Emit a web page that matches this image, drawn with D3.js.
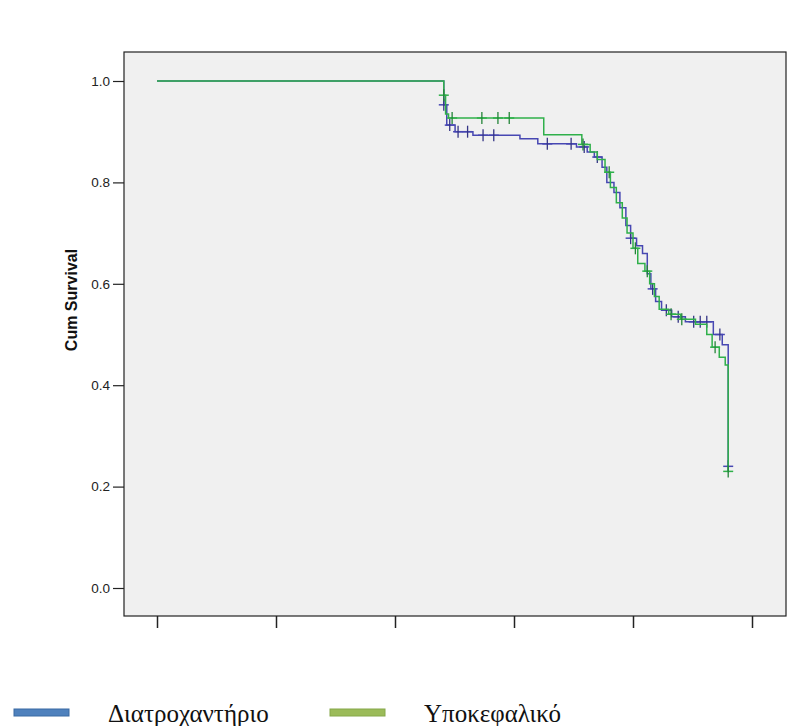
<!DOCTYPE html>
<html>
<head>
<meta charset="utf-8">
<script src="https://cdn.jsdelivr.net/npm/d3@7"></script>
<style>
  body { margin: 0; background: #fff; }
  svg { display: block; }
</style>
</head>
<body>
<svg width="803" height="726"></svg>
<script>
var svg = d3.select("svg");

// step curves: [time, survival after the step]
var blueSteps = [[0,1.0],[48.2,0.953],[48.7,0.913],[50.1,0.90],[53.1,0.893],[61.0,0.886],[64.0,0.876],
  [70.5,0.87],[72.3,0.86],[73.5,0.85],[74.8,0.83],[75.6,0.80],[76.8,0.78],[77.8,0.75],[78.8,0.715],
  [79.6,0.69],[80.6,0.675],[81.6,0.66],[82.4,0.62],[83.0,0.59],[83.8,0.565],[84.8,0.548],[86.5,0.535],
  [88.8,0.525],[93.5,0.50],[95.0,0.48],[96.0,0.24]];
var greenSteps = [[0,1.0],[48.2,0.972],[48.5,0.935],[49.0,0.927],[65.0,0.894],[71.4,0.875],[72.8,0.86],
  [74.0,0.845],[75.3,0.82],[76.2,0.79],[77.2,0.76],[78.2,0.73],[79.0,0.70],[80.0,0.67],[80.8,0.64],
  [82.0,0.625],[82.8,0.60],[83.6,0.575],[84.4,0.55],[86.0,0.54],[88.0,0.53],[90.5,0.52],[92.4,0.50],
  [93.3,0.475],[94.5,0.455],[95.5,0.44],[96.0,0.23]];
// censored times
var blueCensor = [48.2,49.2,50.6,52.2,54.8,56.6,65.6,69.6,71.8,74.0,79.6,83.3,85.6,87.6,90.2,91.3,92.4,94.6,96.0];
var greenCensor = [48.2,49.6,54.6,57.3,59.2,71.6,76.0,80.4,82.4,86.4,88.2,93.8,96.0];
var yTicks = [0.0, 0.2, 0.4, 0.6, 0.8, 1.0];
var xTicks = [0, 20, 40, 60, 80, 100];
var legendLabels = ["Διατροχαντήριο", "Υποκεφαλικό"];

var blueColor = "#4747b2";
var greenColor = "#2fb04a";

var frame = {left: 124, right: 786, top: 52, bottom: 616};
var x = d3.scaleLinear().domain([0, 100]).range([157, 752]);
var y = d3.scaleLinear().domain([0, 1]).range([588, 81]);

// plot background
svg.append("rect")
   .attr("x", frame.left).attr("y", frame.top)
   .attr("width", frame.right - frame.left)
   .attr("height", frame.bottom - frame.top)
   .attr("fill", "#f0f0f0")
   .attr("stroke", "#222")
   .attr("stroke-width", 1.2);

// y axis
var yAxis = d3.axisLeft(y).tickValues(yTicks).tickFormat(d3.format(".1f")).tickSize(11).tickPadding(3);
var gy = svg.append("g").attr("transform", "translate(" + frame.left + ",0)").call(yAxis);
gy.select(".domain").remove();
gy.selectAll("line").attr("stroke", "#222").attr("stroke-width", 1.2);
gy.selectAll("text").style("font-family", "Arial, 'Liberation Sans', sans-serif")
  .style("font-size", "13.5px").attr("fill", "#222");

// x axis, ticks only
var xAxis = d3.axisBottom(x).tickValues(xTicks).tickFormat("").tickSize(12);
var gx = svg.append("g").attr("transform", "translate(0," + frame.bottom + ")").call(xAxis);
gx.select(".domain").remove();
gx.selectAll("line").attr("stroke", "#222").attr("stroke-width", 1.5);

svg.append("text")
   .attr("transform", "translate(77,300) rotate(-90)")
   .attr("text-anchor", "middle")
   .style("font-family", "Arial, 'Liberation Sans', sans-serif")
   .style("font-size", "16px")
   .style("font-weight", "bold")
   .attr("fill", "#111")
   .text("Cum Survival");

function survivalAt(steps, t) {
    var i = d3.bisector(function(d) { return d[0]; }).right(steps, t) - 1;
    return steps[Math.max(i, 0)][1];
}

var stepLine = d3.line()
    .x(function(d) { return x(d[0]); })
    .y(function(d) { return y(d[1]); })
    .curve(d3.curveStepAfter);

function drawCurve(steps, censor, color) {
    svg.append("path")
       .datum(steps)
       .attr("d", stepLine)
       .attr("fill", "none")
       .attr("stroke", color)
       .attr("stroke-width", 1.5);
    var g = svg.append("g");
    censor.forEach(function(t) {
        var cx = x(t), cy = y(survivalAt(steps, t));
        g.append("line").attr("x1", cx - 5).attr("x2", cx + 5).attr("y1", cy).attr("y2", cy)
         .attr("stroke", color).attr("stroke-width", 1.5);
        g.append("line").attr("x1", cx).attr("x2", cx).attr("y1", cy - 6).attr("y2", cy + 6)
         .attr("stroke", d3.color(color).darker(0.8)).attr("stroke-width", 1.3);
    });
}

drawCurve(blueSteps, blueCensor, blueColor);
drawCurve(greenSteps, greenCensor, greenColor);

// legend
var legendColors = [["#4f81bd", "#3a6aa3"], ["#9bbb59", "#86a84a"]];
var legendX = [14, 330];
legendLabels.forEach(function(lab, i) {
    svg.append("rect")
       .attr("x", legendX[i]).attr("y", 709)
       .attr("width", 55).attr("height", 7)
       .attr("fill", legendColors[i][0])
       .attr("stroke", legendColors[i][1])
       .attr("stroke-width", 1);
    svg.append("text")
       .attr("x", legendX[i] + 94).attr("y", 722)
       .style("font-family", "'Liberation Serif', 'Times New Roman', serif")
       .style("font-size", "25px")
       .attr("fill", "#111")
       .text(lab);
});
</script>
</body>
</html>
